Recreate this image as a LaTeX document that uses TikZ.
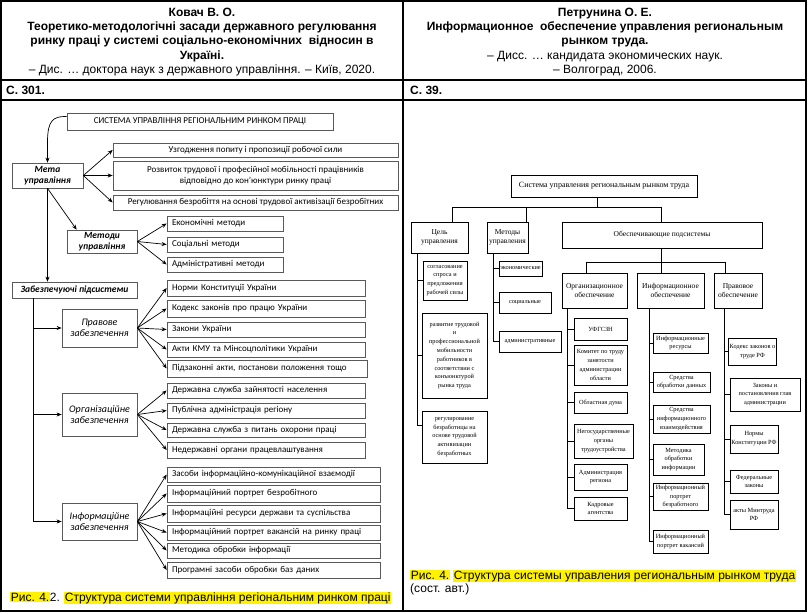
\documentclass[tikz,border=0pt]{standalone}
\usepackage{fontspec}
\setmainfont{Liberation Sans}
\newfontfamily\calf{Carlito}
\newfontfamily\tmsf{Liberation Serif}
\usetikzlibrary{arrows.meta,calc}
\newcommand\hlt[1]{{\setlength{\fboxsep}{0.6pt}\colorbox{yellow}{#1}}}
\newcommand\bx[7][]{%
 \pgfmathsetmacro\bw{#5-#3}\pgfmathsetmacro\bh{#6-#4}%
 \node[#1, minimum width=\bw pt, minimum height=\bh pt] (#2) at ({(#3+#5)/2},{(#4+#6)/2}) {#7};}
\newcommand\bxl[7][]{%
 \pgfmathsetmacro\bw{#5-#3}\pgfmathsetmacro\bh{#6-#4}\pgfmathsetmacro\tw{#5-#3-10}%
 \node[#1, minimum width=\bw pt, minimum height=\bh pt, text width=\tw pt, align=left, inner xsep=5pt] (#2) at ({(#3+#5)/2},{(#4+#6)/2}) {#7};}
\begin{document}
\begin{tikzpicture}[x=1pt,y=-1pt,
  lb/.style={draw=black!65, line width=0.7pt, inner sep=1pt, font=\calf\fontsize{9}{10.5}\selectfont, align=center},
  lh/.style={lb, font=\calf\bfseries\itshape\fontsize{9.5}{11}\selectfont},
  li/.style={lb, font=\calf\itshape\fontsize{10}{11.5}\selectfont},
  arr/.style={-{Stealth[length=5pt,width=4pt]}, line width=0.7pt, black},
  rb/.style={draw=black, line width=0.6pt, inner sep=1pt, font=\tmsf\fontsize{6.3}{8.8}\selectfont, align=center},
  rm/.style={rb, font=\tmsf\fontsize{7.5}{9.5}\selectfont},
  rl/.style={line width=0.6pt, black},
  grid/.style={line width=1.1pt, black}
]
\useasboundingbox (0,0) rectangle (808,613);
% table
\draw[grid] (1,1) rectangle (806,611);
\draw[grid] (403,1) -- (403,611);
\draw[grid] (1,80) -- (806,80);
\draw[grid] (1,100) -- (806,100);
% headers
\node[font=\bfseries\fontsize{12}{14.1}\selectfont, align=center] (hl) at (202,42) {Ковач В. О.\\Теоретико-методологічні засади державного регулювання\\ринку праці у системі соціально-економічних \ відносин в\\Україні.\\\mdseries – Дис. … доктора наук з державного управління. – Київ, 2020.};
\node[font=\bfseries\fontsize{12}{14.1}\selectfont, align=center] (hr) at (605,42) {Петрунина О. Е.\\Информационное \ обеспечение управления региональным\\рынком труда.\\\mdseries – Дисс. … кандидата экономических наук.\\\mdseries – Волгоград, 2006.};
\node[font=\bfseries\fontsize{12}{14}\selectfont, anchor=west, inner sep=0] (pl) at (6,90) {С. 301.};
\node[font=\bfseries\fontsize{12}{14}\selectfont, anchor=west, inner sep=0] (pr) at (410,90) {С. 39.};
% captions
\node[font=\fontsize{12}{14}\selectfont, anchor=west, inner sep=0] (capl) at (10,598) {\hlt{Рис. 4.}2. \hlt{Структура системи управління регіональним ринком праці}};
\node[font=\fontsize{12}{13.5}\selectfont, anchor=north west, align=left, inner sep=0] (capr) at (410,570) {\hlt{Рис. 4.} \hlt{Структура системы управления региональным рынком труда}\\(сост. авт.)};

% ---------- left diagram ----------
\bx[lb]{ltop}{67}{113}{333}{130}{СИСТЕМА УПРАВЛІННЯ РЕГІОНАЛЬНИМ РИНКОМ ПРАЦІ}
\bx[lh]{meta}{12}{163}{83}{188}{Мета\\управління}
\bx[lb]{g1}{113}{143}{398}{157}{Узгодження попиту і пропозиції робочої сили}
\bx[lb]{g2}{113}{161}{398}{190}{Розвиток трудової і професійної мобільності працівників\\відповідно до кон’юнктури ринку праці}
\bx[lb]{g3}{113}{195}{398}{210}{Регулювання безробіття на основі трудової активізації безробітних}
\bx[lh]{metody}{67}{230}{137}{253}{Методи\\управління}
\bxl[lb]{m1}{167}{216}{283}{231}{Економічні методи}
\bxl[lb]{m2}{167}{237}{283}{252}{Соціальні методи}
\bxl[lb]{m3}{167}{257}{283}{272}{Адміністративні методи}
\bx[lh]{zab}{12}{282}{137}{298}{Забезпечуючі підсистеми}
\bx[li]{prav}{62}{309}{137}{347}{Правове\\забезпечення}
\bxl[lb]{pr1}{167}{280}{365}{296}{Норми Конституції України}
\bxl[lb]{pr2}{167}{300}{365}{317}{Кодекс законів про працю України}
\bxl[lb]{pr3}{167}{322}{365}{337}{Закони України}
\bxl[lb]{pr4}{167}{342}{365}{357}{Акти КМУ та Мінсоцполітики України}
\bxl[lb]{pr5}{167}{360}{367}{377}{Підзаконні акти, постанови положення тощо}
\bx[li]{org}{62}{393}{137}{436}{Організаційне\\забезпечення}
\bxl[lb]{or1}{167}{383}{365}{398}{Державна служба зайнятості населення}
\bxl[lb]{or2}{167}{403}{365}{418}{Публічна адміністрація регіону}
\bxl[lb]{or3}{167}{423}{365}{437}{Державна служба з питань охорони праці}
\bxl[lb]{or4}{167}{442}{365}{458}{Недержавні органи працевлаштування}
\bx[li]{inf}{62}{503}{137}{540}{Інформаційне\\забезпечення}
\bxl[lb]{in1}{167}{467}{380}{482}{Засоби інформаційно-комунікаційної взаємодії}
\bxl[lb]{in2}{167}{485}{380}{502}{Інформаційний портрет безробітного}
\bxl[lb]{in3}{167}{505}{380}{522}{Інформаційні ресурси держави та суспільства}
\bxl[lb]{in4}{167}{525}{380}{540}{Інформаційний портрет вакансій на ринку праці}
\bxl[lb]{in5}{167}{543}{380}{558}{Методика обробки інформації}
\bxl[lb]{in6}{167}{562}{380}{578}{Програмні засоби обробки баз даних}

\draw[arr] ([yshift=5pt]ltop.west) .. controls (52,116) and (48,122) .. (meta.north |- 0,140) -- (meta.north);
\foreach \t in {g1,g2,g3} \draw[arr] (meta.east) -- (\t.west);
\draw[arr] (meta.south) -- (meta.south |- zab.north);
\draw[arr] (meta.south) -- ([xshift=10pt]metody.north west);
\foreach \t in {m1,m2,m3} \draw[arr] (metody.east) -- (\t.west);
\coordinate (lt) at (33,0);
\draw[arr] (zab.south -| lt) |- (inf.west);
\draw[arr] (prav.west -| lt) -- (prav.west);
\draw[arr] (org.west -| lt) -- (org.west);
\foreach \t in {pr1,pr2,pr3,pr4,pr5} \draw[arr] (prav.east) -- (\t.west);
\foreach \t in {or1,or2,or3,or4} \draw[arr] (org.east) -- (\t.west);
\foreach \t in {in1,in2,in3,in4,in5,in6} \draw[arr] (inf.east) -- (\t.west);

% ---------- right diagram ----------
\bx[rm]{rtop}{511}{175}{697}{197}{\fontsize{8}{9}\selectfont Система управления региональным рынком труда}
\bx[rm]{cel}{411}{222}{468}{253}{Цель\\управления}
\bx[rm]{met}{487}{222}{528}{253}{Методы\\управления}
\bx[rm]{obes}{562}{222}{762}{248}{Обеспечивающие подсистемы}
\bx[rm]{rorg}{562}{273}{627}{308}{Организационное\\обеспечение}
\bx[rm]{rinf}{637}{273}{704}{308}{Информационное\\обеспечение}
\bx[rm]{rprav}{714}{273}{762}{308}{Правовое\\обеспечение}
\bx[rb]{c1}{423}{261}{467}{300}{согласование\\спроса и\\предложения\\рабочей силы}
\bx[rb]{c2}{422}{313}{487}{398}{развитие трудовой\\и\\профессиональной\\мобильности\\работников в\\соответствии с\\конъюнктурой\\рынка труда}
\bx[rb]{c3}{422}{411}{487}{463}{регулирование\\безработицы на\\основе трудовой\\активизации\\безработных}
\bx[rb]{rm1}{499}{261}{542}{276}{экономические}
\bx[rb]{rm2}{499}{292}{551}{313}{социальные}
\bx[rb]{rm3}{499}{331}{561}{352}{административные}
\bx[rb]{o1}{574}{318}{627}{340}{УФГСЗН}
\bx[rb]{o2}{574}{345}{627}{385}{Комитет по труду\\занятости\\администрации\\области}
\bx[rb]{o3}{574}{392}{627}{413}{Областная дума}
\bx[rb]{o4}{574}{424}{633}{458}{Негосударственные\\органы\\трудоустройства}
\bx[rb]{o5}{574}{464}{627}{490}{Администрация\\региона}
\bx[rb]{o6}{574}{497}{627}{520}{Кадровые\\агентства}
\bx[rb]{i1}{653}{333}{708}{353}{Информационные\\ресурсы}
\bx[rb]{i2}{653}{372}{710}{392}{Средства\\обработки данных}
\bx[rb]{i3}{653}{405}{710}{433}{Средства\\информационного\\взаимодействия}
\bx[rb]{i4}{653}{444}{704}{475}{Методика\\обработки\\информации}
\bx[rb]{i5}{653}{483}{708}{510}{Информационный\\портрет\\безработного}
\bx[rb]{i6}{653}{530}{708}{553}{Информационный\\портрет вакансий}
\bx[rb]{q1}{730}{338}{775}{365}{Кодекс законов о\\труде РФ}
\bx[rb]{q2}{730}{378}{800}{411}{Законы и\\постановления глав\\администрации}
\bx[rb]{q3}{730}{425}{778}{453}{Нормы\\Конституции РФ}
\bx[rb]{q4}{730}{470}{778}{493}{Федеральные\\законы}
\bx[rb]{q5}{730}{500}{778}{529}{акты Минтруда\\РФ}

\coordinate (rj) at (597,207);
\coordinate (hc) at (452,207);
\coordinate (hm) at (526,207);
\coordinate (ho) at (661,207);
\draw[rl] (rtop.south -| rj) -- (rj);
\draw[rl] (hc) -- (ho);
\draw[rl] (hc) -- (hc |- cel.north);
\draw[rl] (hm) -- (hm |- met.north);
\draw[rl] (ho) -- (ho |- obes.north);
\coordinate (oa) at (586,262);
\coordinate (od) at (661,262);
\coordinate (oc) at (725,262);
\draw[rl] (obes.south -| od) -- (od);
\draw[rl] (oa) -- (oc);
\draw[rl] (oa) -- (oa |- rorg.north);
\draw[rl] (od) -- (od |- rinf.north);
\draw[rl] (oc) -- (oc |- rprav.north);
\coordinate (t1) at (417,0);
\coordinate (t2) at (493,0);
\coordinate (t3) at (567,0);
\coordinate (t4) at (649,0);
\coordinate (t5) at (724,0);
\draw[rl] (cel.south -| t1) |- ([yshift=12pt]c3.west);
\foreach \t in {c1,c2} \draw[rl] (\t.west -| t1) -- (\t.west);
\draw[rl] (met.south -| t2) |- (rm3.west);
\foreach \t in {rm1,rm2} \draw[rl] (\t.west -| t2) -- (\t.west);
\draw[rl] (rorg.south -| t3) |- (o6.west);
\foreach \t in {o1,o2,o3,o4,o5} \draw[rl] (\t.west -| t3) -- (\t.west);
\draw[rl] (rinf.south -| t4) |- (i6.west);
\foreach \t in {i1,i2,i3,i4,i5} \draw[rl] (\t.west -| t4) -- (\t.west);
\draw[rl] (rprav.south -| t5) |- (q5.west);
\foreach \t in {q1,q2,q3,q4} \draw[rl] (\t.west -| t5) -- (\t.west);
\end{tikzpicture}
\end{document}
